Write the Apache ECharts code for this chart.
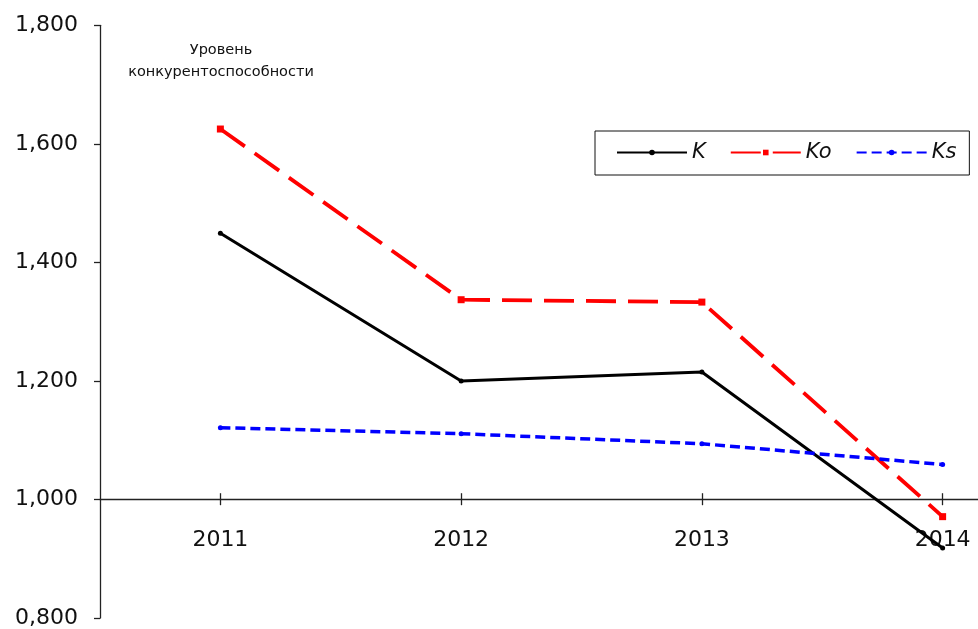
<!DOCTYPE html>
<html>
<head>
<meta charset="utf-8">
<script src="https://cdn.jsdelivr.net/npm/echarts@6/dist/echarts.min.js"></script>
<style>
  html, body { margin: 0; padding: 0; background: #fff; overflow: hidden; }
  /* the plot area runs past the right edge of the window, so the canvas is wider than the view */
  #chart { width: 1070px; height: 629px; }
</style>
</head>
<body>
<div id="chart"></div>
<script>
// Competitiveness indices by year
const years = ['2011', '2012', '2013', '2014'];
const valuesK = [1.449, 1.200, 1.215, 0.918];
const valuesKo = [1.625, 1.337, 1.333, 0.971];
const valuesKs = [1.121, 1.111, 1.094, 1.059];
const seriesNames = ['K', 'Ko', 'Ks'];
const yTitle = 'Уровень\nконкурентоспособности';

const FONT = 'DejaVu Sans';
const GRID_TOP = 25.3, GRID_H = 594, Y_MIN = 0.8, Y_MAX = 1.8;
// pixel distance from the grid bottom up to the value 1.0, where the category axis sits
const axisOffset = -GRID_H * (1.0 - Y_MIN) / (Y_MAX - Y_MIN);

const chart = echarts.init(document.getElementById('chart'), null, { renderer: 'canvas' });

const catAxisBase = {
  type: 'category',
  data: years,
  position: 'bottom',
  offset: axisOffset,
  boundaryGap: true,
  axisLine: { show: true, lineStyle: { color: '#222', width: 1.3 } },
  axisTick: { show: true, alignWithLabel: true, length: 6, lineStyle: { color: '#222', width: 1.3 } },
  splitLine: { show: false }
};

chart.setOption({
  animation: false,
  backgroundColor: '#fff',
  title: {
    text: yTitle,
    left: 216,
    top: 34,
    textAlign: 'center',
    textStyle: { fontFamily: FONT, fontSize: 14.5, fontWeight: 'normal', color: '#111', lineHeight: 22 }
  },
  legend: {
    data: seriesNames,
    left: 595,
    top: 131,
    orient: 'horizontal',
    padding: [11, 13, 12, 21],
    itemWidth: 70,
    itemHeight: 7,
    itemGap: 24,
    borderColor: '#111',
    borderWidth: 1,
    textStyle: { fontFamily: FONT, fontSize: 21, fontStyle: 'italic', color: '#111' }
  },
  grid: { left: 100, top: GRID_TOP, width: 963, height: GRID_H, containLabel: false },
  xAxis: [
    Object.assign({}, catAxisBase, {
      axisLabel: { show: true, margin: 30, fontFamily: FONT, fontSize: 22, color: '#111' }
    }),
    Object.assign({}, catAxisBase, {
      axisLine: { show: false },
      axisTick: { show: true, inside: true, alignWithLabel: true, length: 6, lineStyle: { color: '#222', width: 1.3 } },
      axisLabel: { show: false }
    })
  ],
  yAxis: {
    type: 'value',
    min: Y_MIN,
    max: Y_MAX,
    interval: 0.2,
    axisLine: { show: true, lineStyle: { color: '#222', width: 1.3 } },
    axisTick: { show: true, length: 6, lineStyle: { color: '#222', width: 1.3 } },
    splitLine: { show: false },
    axisLabel: {
      margin: 22,
      fontFamily: FONT,
      fontSize: 22,
      color: '#111',
      formatter: v => v.toFixed(3).replace('.', ',')
    }
  },
  series: [
    {
      name: 'K', type: 'line', data: valuesK, xAxisIndex: 0,
      symbol: 'circle', symbolSize: 5, clip: false,
      itemStyle: { color: '#000' },
      lineStyle: { color: '#000', width: 3 }
    },
    {
      name: 'Ko', type: 'line', data: valuesKo, xAxisIndex: 0,
      symbol: 'rect', symbolSize: 7, clip: false,
      itemStyle: { color: '#ff0000' },
      lineStyle: { color: '#ff0000', width: 3.8, type: [30, 12] }
    },
    {
      name: 'Ks', type: 'line', data: valuesKs, xAxisIndex: 0,
      symbol: 'circle', symbolSize: 5, clip: false,
      itemStyle: { color: '#0000ff' },
      lineStyle: { color: '#0000ff', width: 3.5, type: [10, 5] }
    }
  ]
});
</script>
</body>
</html>
